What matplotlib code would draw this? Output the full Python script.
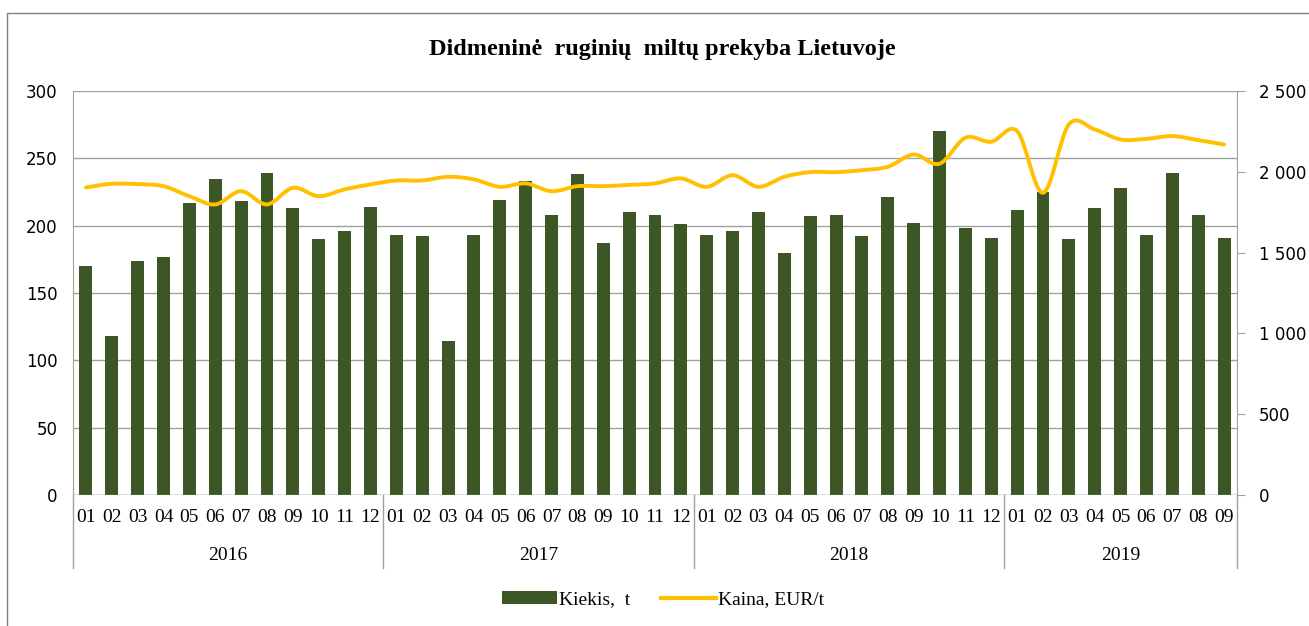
import numpy as np
import matplotlib
matplotlib.use("Agg")
import matplotlib.pyplot as plt
from matplotlib.path import Path
from matplotlib.patches import PathPatch, Rectangle, Patch
from matplotlib.lines import Line2D
from matplotlib.ticker import FuncFormatter

# ---------- data ----------
years = ["2016", "2017", "2018", "2019"]
months_per_year = [12, 12, 12, 9]
month_labels = ["01", "02", "03", "04", "05", "06", "07", "08", "09", "10", "11", "12"] * 3 + \
               ["01", "02", "03", "04", "05", "06", "07", "08", "09"]

# Kiekis, t (left axis)
quantity = [170, 118, 174, 177, 217, 235, 218, 239, 213, 190, 196, 214,
            193, 192, 114, 193, 219, 233, 208, 238, 187, 210, 208, 201,
            193, 196, 210, 180, 207, 208, 192, 221, 202, 270, 198, 191,
            212, 225, 190, 213, 228, 193, 239, 208, 191]

# Kaina, EUR/t (right axis)
price = [1903, 1926, 1924, 1911, 1849, 1798, 1880, 1798, 1901, 1849, 1891, 1922,
         1946, 1946, 1969, 1953, 1907, 1928, 1880, 1911, 1911, 1919, 1928, 1959,
         1907, 1979, 1907, 1969, 1998, 1998, 2010, 2031, 2107, 2050, 2211, 2186,
         2252, 1870, 2293, 2262, 2200, 2204, 2221, 2196, 2169]

bar_color = "#3C5625"
line_color = "#FFC000"
grid_color = "#A0A0A0"

fig = plt.figure(figsize=(13.09, 6.26), dpi=100)

# thin frame round the chart area
fig.patches.append(Rectangle((7 / 1309, -0.01), 1.0, 1 - 13 / 626 + 0.01,
                             transform=fig.transFigure, fill=False,
                             edgecolor="#808080", linewidth=1.0))

ax = fig.add_axes([73 / 1309, 1 - 495 / 626, (1237 - 73) / 1309, 404 / 626])
ax2 = ax.twinx()

x = np.arange(len(quantity))
ax.bar(x, quantity, width=0.5, color=bar_color, zorder=3)

ax.set_xlim(-0.5, len(quantity) - 0.5)
ax.set_ylim(0, 300)
ax.set_yticks(np.arange(0, 301, 50))
ax.yaxis.grid(True, color=grid_color, linewidth=1.0, zorder=0)
ax.set_axisbelow(True)
for s in ["top", "right", "bottom"]:
    ax.spines[s].set_visible(False)
ax.spines["left"].set_color(grid_color)
ax.tick_params(axis="y", length=0, pad=11, labelsize=12)
ax.axhline(0, color=grid_color, linewidth=1.0, zorder=4)

ax.set_xticks(x)
ax.set_xticklabels(month_labels, family="Liberation Serif", fontsize=14)
ax.tick_params(axis="x", length=0, pad=10)

# year labels and separators under the axis
sep_bottom = -(568 - 495) / 404
trans = matplotlib.transforms.blended_transform_factory(ax.transData, ax.transAxes)
start = 0
edges = [-0.5]
for yr, n in zip(years, months_per_year):
    mid = start + (n - 1) / 2
    ax.text(mid, -(556 - 495) / 404, yr, transform=trans, ha="center", va="center",
            family="Liberation Serif", fontsize=14)
    start += n
    edges.append(start - 0.5)
for e in edges:
    ax.plot([e, e], [0, sep_bottom], transform=trans, color=grid_color,
            linewidth=1.0, clip_on=False)

# right axis
ax2.set_ylim(0, 2500)
ax2.set_yticks(np.arange(0, 2501, 500))
ax2.yaxis.set_major_formatter(FuncFormatter(lambda v, p: f"{int(v):,}".replace(",", " ")))
for s in ["top", "left", "bottom"]:
    ax2.spines[s].set_visible(False)
ax2.spines["right"].set_color(grid_color)
ax2.tick_params(axis="y", length=6, color=grid_color, pad=10, labelsize=12)

# smoothed price line (cubic Bezier segments through the data points)
pts = np.column_stack([x, price]).astype(float)
verts = [tuple(pts[0])]
codes = [Path.MOVETO]
for i in range(len(pts) - 1):
    p0 = pts[i - 1] if i > 0 else pts[i]
    p1, p2 = pts[i], pts[i + 1]
    p3 = pts[i + 2] if i + 2 < len(pts) else pts[i + 1]
    c1 = p1 + (p2 - p0) / 6
    c2 = p2 - (p3 - p1) / 6
    verts += [tuple(c1), tuple(c2), tuple(p2)]
    codes += [Path.CURVE4] * 3
ax2.add_patch(PathPatch(Path(verts, codes), facecolor="none", edgecolor=line_color,
                        linewidth=2.8, capstyle="round", joinstyle="round", zorder=5))

fig.text(662 / 1309, 1 - 49 / 626, "Didmeninė  ruginių  miltų prekyba Lietuvoje",
         ha="center", va="center", family="Liberation Serif", fontweight="bold",
         fontsize=17.5)

handles = [Patch(facecolor=bar_color, edgecolor="none"),
           Line2D([], [], color=line_color, linewidth=3)]
fig.legend(handles, ["Kiekis,  t", "Kaina, EUR/t"], loc="center",
           bbox_to_anchor=(663 / 1309, 1 - 600 / 626), ncol=2, frameon=False,
           prop={"family": "Liberation Serif", "size": 14},
           handlelength=2.8, handleheight=0.6, handletextpad=0.1, columnspacing=1.6)

fig.savefig("out.png", dpi=100)
